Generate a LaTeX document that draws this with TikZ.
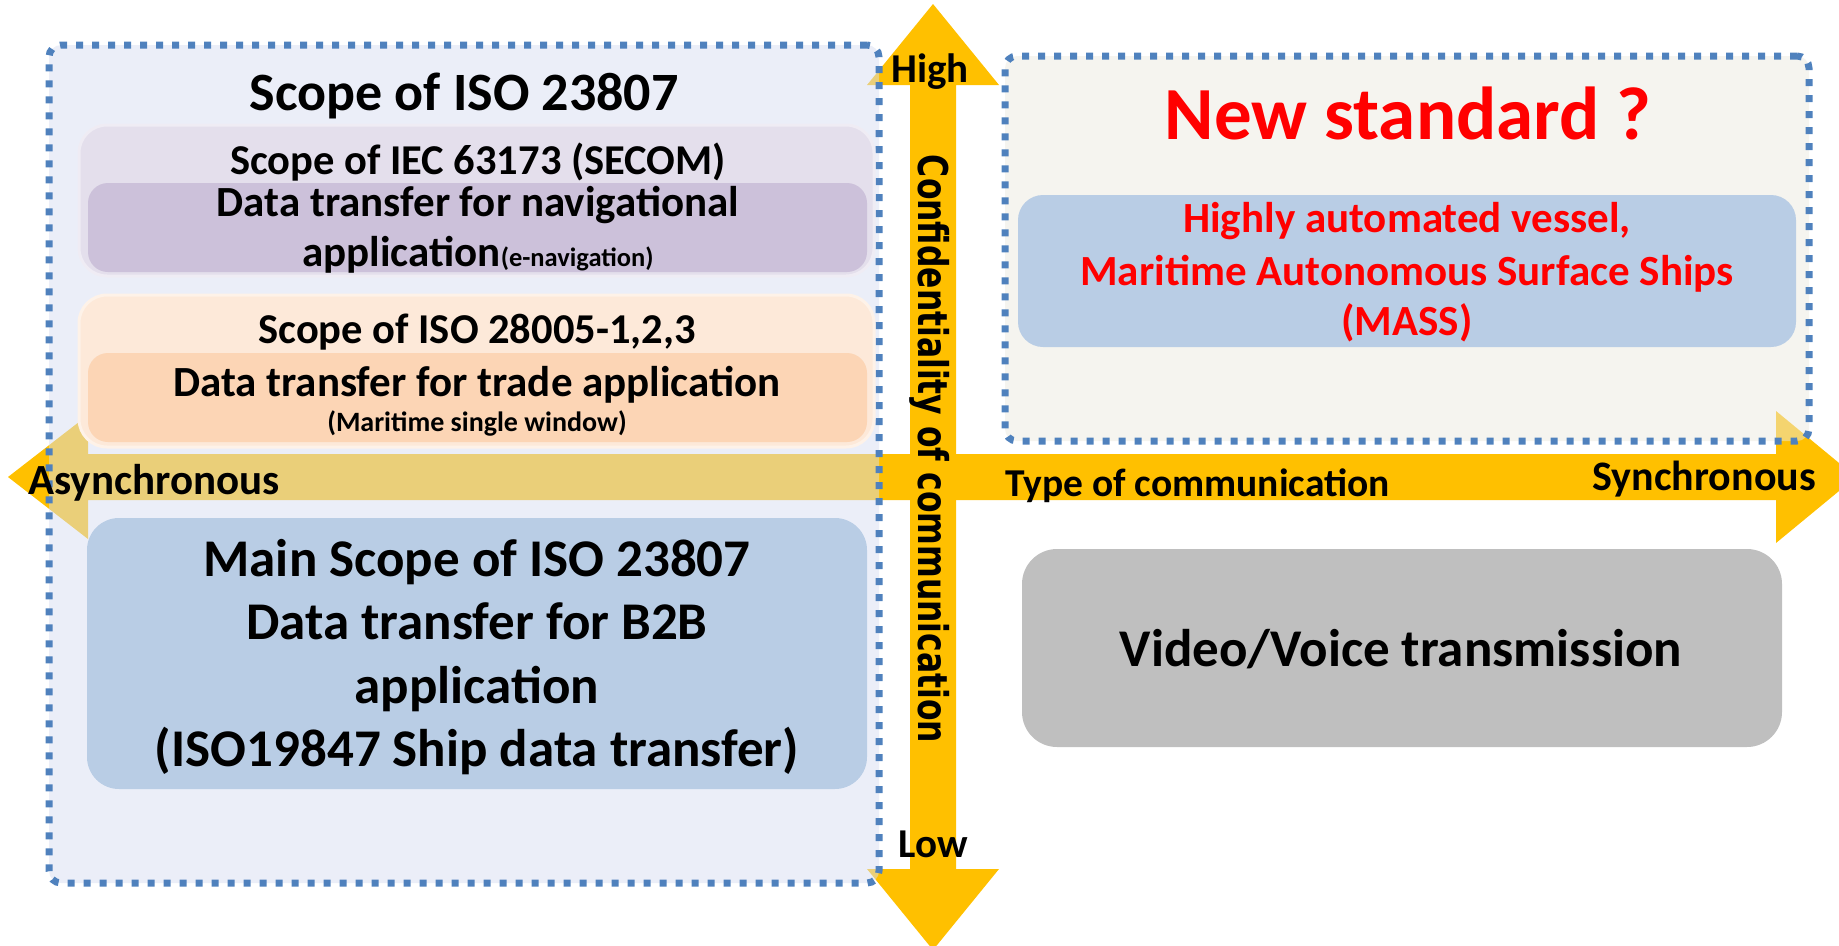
\documentclass[tikz,border=0pt]{standalone}
\usepackage{fontspec}
\usepackage{graphicx}
\setmainfont{Carlito}
\newfontfamily\axisfont{DejaVu Sans}

\definecolor{axisgold}{HTML}{FFC000}
\definecolor{dashblue}{HTML}{4F81BD}
\definecolor{leftpanelfill}{HTML}{D7DEF2}
\definecolor{rightpanelfill}{HTML}{EBE9DF}
\definecolor{lilacouter}{HTML}{E4DFEC}
\definecolor{lilacinner}{HTML}{CCC1DA}
\definecolor{peachouter}{HTML}{FDE9D9}
\definecolor{peachinner}{HTML}{FCD5B5}
\definecolor{steelbox}{HTML}{B9CDE5}
\definecolor{greybox}{HTML}{BFBFBF}
\definecolor{alertred}{HTML}{FF0000}

\begin{document}
\begin{tikzpicture}[x=1pt,y=-1pt,
  lbl/.style={inner sep=0pt, anchor=base, text=black,
              font=\bfseries\fontsize{#1}{#1}\selectfont},
  panel/.style={draw=dashblue, line width=7pt,
                dash pattern=on 7pt off 9pt, rounded corners=12pt,
                fill opacity=0.5, inner sep=0pt},
  area/.style={inner sep=0pt, draw=none, rounded corners=#1},
]
\useasboundingbox (0,0) rectangle (1839,945);
\clip (0,0) rectangle (1839,945);

% ---- axes: two broad block arrows ----
\fill[axisgold] (8,477) -- (88,415) -- (88,454) -- (1776,454) -- (1776,411)
  -- (1856,477) -- (1776,543) -- (1776,500) -- (88,500) -- (88,539) -- cycle;
\fill[axisgold] (933,4) -- (999,85) -- (956,85) -- (956,869) -- (999,869)
  -- (933,950) -- (867,869) -- (910,869) -- (910,85) -- (867,85) -- cycle;

% ---- translucent dotted panels ----
\node[panel, fill=leftpanelfill, minimum width=830pt, minimum height=838pt]
  (leftpanel) at (464,464) {};
\node[panel, fill=rightpanelfill, minimum width=804pt, minimum height=385pt]
  (rightpanel) at (1407,248.5) {};

% ---- scope boxes ----
\node[area=28pt, fill=lilacouter, draw=lilacouter!60!white, line width=3pt,
  minimum width=795pt, minimum height=151pt] (secombox) at (476.5,200.5) {};
\node[area=20pt, fill=lilacinner, minimum width=779pt, minimum height=89pt]
  (navbox) at (477.5,227.5) {};
\node[area=28pt, fill=peachouter, draw=peachouter!60!white, line width=3pt,
  minimum width=795pt, minimum height=152pt] (isobox) at (476.5,371) {};
\node[area=20pt, fill=peachinner, minimum width=779pt, minimum height=89pt]
  (tradebox) at (477.5,397.5) {};
\node[area=32pt, fill=steelbox, minimum width=780pt, minimum height=271pt]
  (mainbox) at (477,653.5) {};
\node[area=25pt, fill=steelbox, minimum width=778pt, minimum height=152pt]
  (massbox) at (1407,271) {};
\node[area=35pt, fill=greybox, minimum width=760pt, minimum height=198pt]
  (videobox) at (1402,648) {};

% ---- texts of the left panel ----
\node[lbl=54] (scopetitle) at (464,110) {Scope of ISO 23807};
\node[lbl=42.5] (secomtxt) at (478,174) {Scope of IEC 63173 (SECOM)};
\node[lbl=43] (navtxta) at (478,216) {Data transfer for navigational};
\node[lbl=43] (navtxtb) at (478,266)
  {application{\fontsize{26.5}{26.5}\selectfont(e-navigation)}};
\node[lbl=42.5] (isotxt) at (477,343) {Scope of ISO 28005-1,2,3};
\node[lbl=43] (tradetxta) at (477,396) {Data transfer for trade application};
\node[lbl=28] (tradetxtb) at (477,431) {(Maritime single window)};
\node[lbl=53] (maintxta) at (477,576) {Main Scope of ISO 23807};
\node[lbl=53] (maintxtb) at (477,639) {Data transfer for B2B};
\node[lbl=53] (maintxtc) at (477,703) {application};
\node[lbl=53] (maintxtd) at (477,766) {(ISO19847 Ship data transfer)};

% ---- texts of the right side ----
\node[lbl=75] (newstd) [text=alertred] at (1408,139) {New standard ?};
\node[lbl=43, text=alertred] (masstxta) at (1407,232) {Highly automated vessel,};
\node[lbl=43, text=alertred] (masstxtb) at (1407,285) {Maritime Autonomous Surface Ships};
\node[lbl=43, text=alertred] (masstxtc) at (1407,335) {(MASS)};
\node[lbl=53] (videotxt) at (1401,666) {Video/Voice transmission};

% ---- axis labels ----
\node[lbl=43, anchor=base west] (async) at (28,494) {Asynchronous};
\node[lbl=39.5, anchor=base west] (commtype) at (1005,496) {Type of communication};
\node[lbl=42, anchor=base east] (sync) at (1816,490) {Synchronous};
\node[lbl=41] (high) at (930,82) {High};
\node[lbl=41] (low) at (933,857) {Low};
\node[inner sep=0pt, anchor=base, rotate=-90,
      font=\axisfont\bfseries\fontsize{41}{41}\selectfont] (confid) at (918,449)
  {\resizebox{588pt}{\height}{Confidentiality of communication}};
\end{tikzpicture}
\end{document}
